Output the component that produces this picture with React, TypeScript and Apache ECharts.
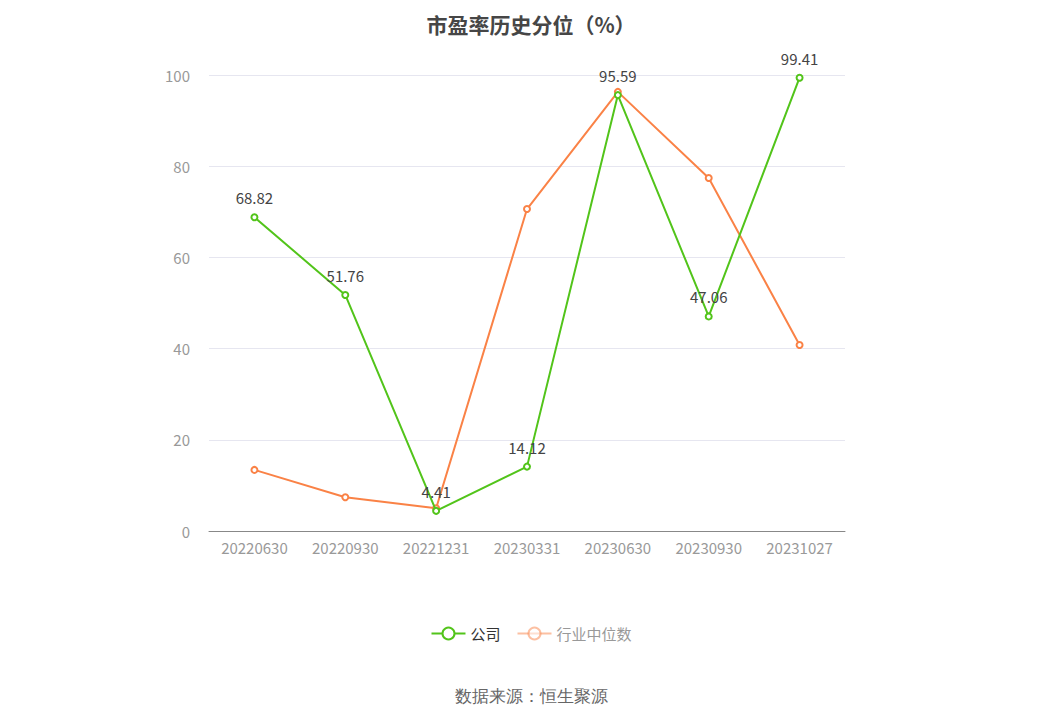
import * as echarts from 'echarts';
import React, { useEffect, useRef } from 'react';

const categories = ['20220630', '20220930', '20221231', '20230331', '20230630', '20230930', '20231027'];
const companyValues = [68.82, 51.76, 4.41, 14.12, 95.59, 47.06, 99.41];
const industryValues = [13.4, 7.4, 5.0, 70.6, 96.3, 77.4, 40.8];
const yTicks = [0, 20, 40, 60, 80, 100];

const App = () => {
  const chartRef = useRef<HTMLDivElement>(null);

  useEffect(() => {
    const chart = echarts.init(chartRef.current, null, { renderer: 'svg' });

    const option = {
      animation: false,
      textStyle: { fontFamily: '"Noto Sans CJK SC", "Noto Sans", sans-serif' },
      title: {
        text: '市盈率历史分位（%）',
        left: 'center',
        top: 4,
        padding: 0,
        textStyle: { fontSize: 21, fontWeight: 'bold', color: '#464646', lineHeight: 24 },
      },
      grid: { left: 201, right: 209, top: 67, bottom: 179 },
      legend: {
        bottom: 64,
        left: 'center',
        itemWidth: 34,
        itemHeight: 15,
        itemGap: 16,
        textStyle: { fontSize: 15, color: '#666' },
        data: [
          { name: '公司', textStyle: { color: '#333' } },
          { name: '行业中位数', itemStyle: { opacity: 0.5 }, lineStyle: { opacity: 0.5 }, textStyle: { color: '#999' } },
        ],
      },
      graphic: [
        {
          type: 'text',
          left: 'center',
          bottom: 5,
          style: { text: '数据来源：恒生聚源', fontSize: 17, fill: '#666' },
        },
      ],
      xAxis: {
        type: 'category',
        data: categories,
        axisLine: { lineStyle: { color: '#888' } },
        axisTick: { alignWithLabel: true, lineStyle: { color: '#888' } },
        axisLabel: { color: '#999', fontSize: 15, margin: 9 },
      },
      yAxis: {
        type: 'value',
        min: yTicks[0],
        max: yTicks[yTicks.length - 1],
        interval: 20,
        axisLine: { show: false },
        axisTick: { show: false },
        axisLabel: { color: '#999', fontSize: 15, margin: 19, align: 'right' },
        splitLine: { lineStyle: { color: '#e6e6f0' } },
      },
      series: [
        {
          name: '公司',
          type: 'line',
          data: companyValues,
          symbol: 'emptyCircle',
          symbolSize: 6,
          itemStyle: { color: '#52c41a' },
          lineStyle: { width: 2, color: '#52c41a' },
          label: { show: true, position: 'top', color: '#444', fontSize: 15, distance: 8 },
          z: 3,
        },
        {
          name: '行业中位数',
          type: 'line',
          data: industryValues,
          symbol: 'emptyCircle',
          symbolSize: 6,
          itemStyle: { color: '#fa8246' },
          lineStyle: { width: 2, color: '#fa8246' },
          z: 2,
        },
      ],
    };

    chart.setOption(option);
    return () => {
      chart.dispose();
    };
  }, []);

  return <div ref={chartRef} style={{ width: 1046, height: 702 }} />;
};

export default App;
